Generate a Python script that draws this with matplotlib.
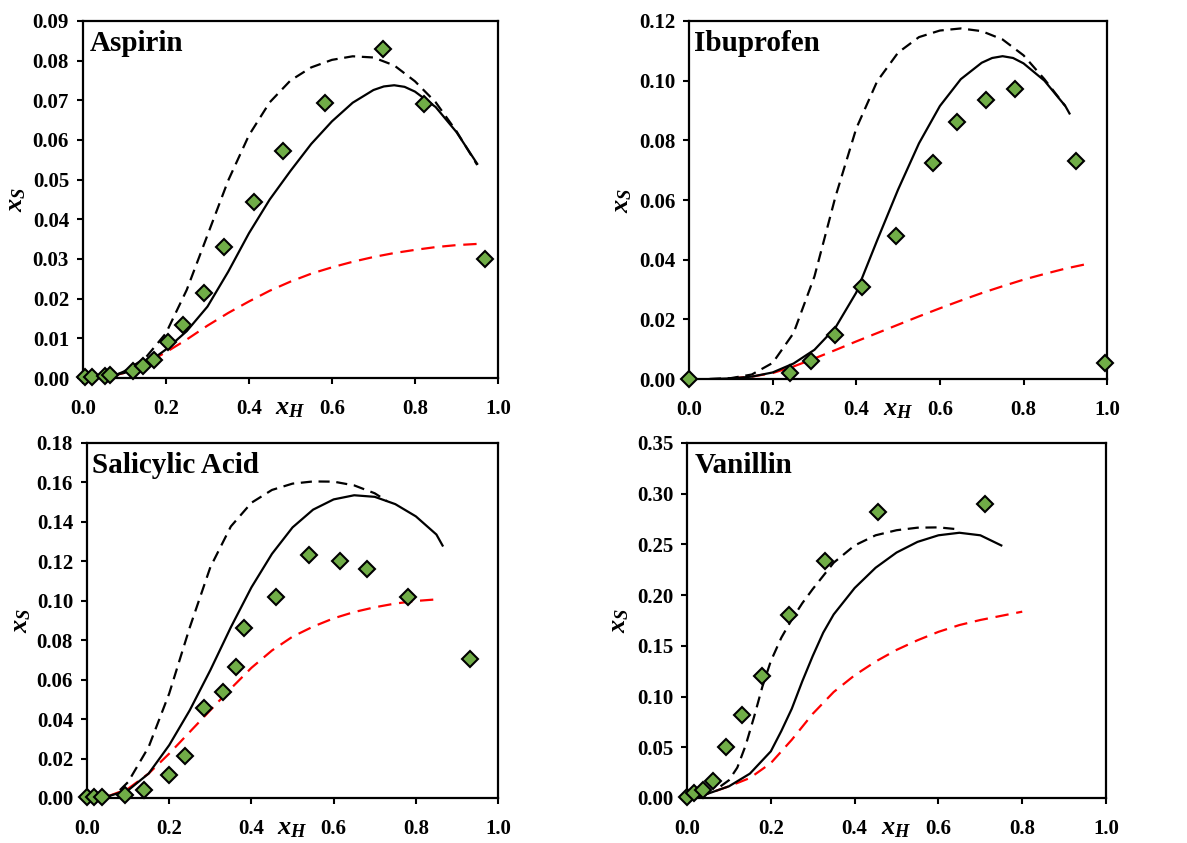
import matplotlib
matplotlib.use("Agg")
import matplotlib.pyplot as plt

plt.rcParams['font.family'] = ['Liberation Serif', 'DejaVu Serif']
plt.rcParams['font.weight'] = 'bold'
plt.rcParams['mathtext.fontset'] = 'custom'
plt.rcParams['mathtext.it'] = 'Liberation Serif:italic:bold'
plt.rcParams['mathtext.rm'] = 'Liberation Serif:bold'
plt.rcParams['mathtext.bf'] = 'Liberation Serif:bold'

# ---------------- Aspirin ----------------
asp_exp_x = [0.006, 0.022, 0.054, 0.066, 0.120, 0.144, 0.170, 0.206, 0.242, 0.292, 0.340, 0.412, 0.483, 0.583, 0.722, 0.821, 0.970]
asp_exp_y = [0.0002, 0.0002, 0.0004, 0.0008, 0.0018, 0.0029, 0.0046, 0.0092, 0.0134, 0.0214, 0.0330, 0.0443, 0.0573, 0.0693, 0.0829, 0.0691, 0.0300]
asp_solid_x = [0.05, 0.10, 0.15, 0.20, 0.25, 0.30, 0.35, 0.40, 0.45, 0.50, 0.55, 0.60, 0.65, 0.70, 0.725, 0.75, 0.775, 0.80, 0.85, 0.90, 0.95]
asp_solid_y = [0.0003, 0.0013, 0.0034, 0.0072, 0.0118, 0.0180, 0.0268, 0.0365, 0.0450, 0.0522, 0.0590, 0.0647, 0.0694, 0.0726, 0.0735, 0.0738, 0.0734, 0.0722, 0.0683, 0.0620, 0.0540]
asp_dash_x = [0.08, 0.10, 0.15, 0.20, 0.25, 0.30, 0.35, 0.40, 0.45, 0.50, 0.55, 0.60, 0.65, 0.70, 0.75, 0.80, 0.85, 0.90, 0.95]
asp_dash_y = [0.0008, 0.0017, 0.0050, 0.0113, 0.0222, 0.0360, 0.0498, 0.0612, 0.0695, 0.0750, 0.0783, 0.0802, 0.0811, 0.0808, 0.0788, 0.0748, 0.0695, 0.0622, 0.0537]
asp_red_x = [0.07, 0.10, 0.15, 0.20, 0.25, 0.30, 0.35, 0.40, 0.45, 0.50, 0.55, 0.60, 0.65, 0.70, 0.75, 0.80, 0.85, 0.90, 0.95]
asp_red_y = [0.0005, 0.0013, 0.0036, 0.0065, 0.0097, 0.0132, 0.0164, 0.0193, 0.0220, 0.0243, 0.0263, 0.0279, 0.0293, 0.0305, 0.0315, 0.0323, 0.0330, 0.0335, 0.0338]

# ---------------- Ibuprofen ----------------
ibu_exp_x = [0.0, 0.242, 0.291, 0.348, 0.414, 0.494, 0.584, 0.642, 0.711, 0.780, 0.926, 0.995]
ibu_exp_y = [0.0, 0.0020, 0.0061, 0.0148, 0.0310, 0.0478, 0.0723, 0.0863, 0.0935, 0.0972, 0.0731, 0.0054]
ibu_solid_x = [0.05, 0.10, 0.15, 0.20, 0.25, 0.30, 0.35, 0.40, 0.45, 0.50, 0.55, 0.60, 0.65, 0.70, 0.725, 0.75, 0.775, 0.80, 0.85, 0.90, 0.91]
ibu_solid_y = [0.0, 0.0002, 0.0008, 0.0022, 0.0052, 0.0098, 0.0172, 0.0290, 0.0465, 0.0635, 0.0790, 0.0915, 0.1005, 0.1060, 0.1076, 0.1082, 0.1076, 0.1058, 0.1000, 0.0915, 0.0890]
ibu_dash_x = [0.05, 0.10, 0.15, 0.20, 0.25, 0.30, 0.35, 0.40, 0.45, 0.50, 0.55, 0.60, 0.65, 0.70, 0.75, 0.80, 0.85, 0.90]
ibu_dash_y = [0.0, 0.0003, 0.0015, 0.0054, 0.0154, 0.0344, 0.0610, 0.0840, 0.0998, 0.1094, 0.1146, 0.1168, 0.1175, 0.1166, 0.1138, 0.1085, 0.1005, 0.0915]
ibu_red_x = [0.10, 0.15, 0.20, 0.25, 0.30, 0.35, 0.40, 0.45, 0.50, 0.55, 0.60, 0.65, 0.70, 0.75, 0.80, 0.85, 0.90, 0.95]
ibu_red_y = [0.0002, 0.0008, 0.0020, 0.0042, 0.0069, 0.0097, 0.0126, 0.0154, 0.0182, 0.0210, 0.0237, 0.0263, 0.0288, 0.0311, 0.0333, 0.0352, 0.0370, 0.0385]

# ---------------- Salicylic Acid ----------------
sal_exp_x = [0.0, 0.017, 0.037, 0.093, 0.139, 0.200, 0.238, 0.284, 0.331, 0.362, 0.383, 0.460, 0.541, 0.616, 0.681, 0.781, 0.931]
sal_exp_y = [0.0005, 0.0005, 0.0005, 0.0014, 0.0042, 0.0119, 0.0212, 0.0454, 0.0538, 0.0665, 0.0860, 0.1021, 0.1233, 0.1204, 0.1162, 0.1018, 0.0704]
sal_solid_x = [0.0, 0.05, 0.10, 0.15, 0.20, 0.25, 0.30, 0.35, 0.40, 0.45, 0.50, 0.55, 0.60, 0.65, 0.70, 0.75, 0.80, 0.85, 0.865]
sal_solid_y = [0.0, 0.0008, 0.0039, 0.0124, 0.0268, 0.0445, 0.0648, 0.0866, 0.1068, 0.1238, 0.1372, 0.1462, 0.1514, 0.1535, 0.1527, 0.1490, 0.1428, 0.1336, 0.1280]
sal_dash_x = [0.08, 0.10, 0.15, 0.20, 0.25, 0.30, 0.35, 0.40, 0.45, 0.50, 0.55, 0.60, 0.65, 0.70, 0.73]
sal_dash_y = [0.0040, 0.0081, 0.0259, 0.0530, 0.0865, 0.1170, 0.1377, 0.1497, 0.1562, 0.1594, 0.1605, 0.1604, 0.1585, 0.1545, 0.1505]
sal_red_x = [0.05, 0.10, 0.15, 0.20, 0.25, 0.30, 0.35, 0.40, 0.45, 0.50, 0.55, 0.60, 0.65, 0.70, 0.75, 0.80, 0.85]
sal_red_y = [0.0008, 0.0047, 0.0124, 0.0225, 0.0335, 0.0445, 0.0555, 0.0660, 0.0748, 0.0818, 0.0869, 0.0911, 0.0943, 0.0967, 0.0986, 0.0999, 0.1007]

# ---------------- Vanillin ----------------
van_exp_x = [0.0, 0.016, 0.038, 0.062, 0.093, 0.130, 0.180, 0.243, 0.329, 0.455, 0.711]
van_exp_y = [0.0007, 0.0050, 0.0080, 0.0164, 0.0500, 0.0817, 0.1200, 0.1800, 0.2335, 0.2820, 0.2900]
van_solid_x = [0.02, 0.05, 0.10, 0.15, 0.20, 0.225, 0.25, 0.275, 0.30, 0.325, 0.35, 0.40, 0.45, 0.50, 0.55, 0.60, 0.65, 0.70, 0.75]
van_solid_y = [0.0010, 0.0043, 0.0115, 0.0240, 0.0460, 0.0660, 0.0880, 0.1150, 0.1400, 0.1630, 0.1810, 0.2070, 0.2270, 0.2420, 0.2525, 0.2590, 0.2615, 0.2590, 0.2490]
van_dash_x = [0.08, 0.10, 0.12, 0.14, 0.16, 0.18, 0.20, 0.225, 0.25, 0.275, 0.30, 0.35, 0.40, 0.45, 0.50, 0.55, 0.60, 0.65]
van_dash_y = [0.0115, 0.0175, 0.0300, 0.0520, 0.0800, 0.1100, 0.1350, 0.1580, 0.1760, 0.1920, 0.2060, 0.2320, 0.2490, 0.2590, 0.2640, 0.2665, 0.2668, 0.2648]
van_red_x = [0.02, 0.05, 0.10, 0.15, 0.20, 0.25, 0.30, 0.35, 0.40, 0.45, 0.50, 0.55, 0.60, 0.65, 0.70, 0.75, 0.80]
van_red_y = [0.0010, 0.0043, 0.0115, 0.0197, 0.0344, 0.0574, 0.0830, 0.1045, 0.1210, 0.1345, 0.1460, 0.1555, 0.1638, 0.1705, 0.1755, 0.1796, 0.1837]

titles = ["Aspirin", "Ibuprofen", "Salicylic Acid", "Vanillin"]
ymax = [0.09, 0.12, 0.18, 0.35]
ystep = [0.01, 0.02, 0.02, 0.05]
x_ticks = [0.0, 0.2, 0.4, 0.6, 0.8, 1.0]

panels = [
    (asp_exp_x, asp_exp_y, asp_solid_x, asp_solid_y, asp_dash_x, asp_dash_y, asp_red_x, asp_red_y),
    (ibu_exp_x, ibu_exp_y, ibu_solid_x, ibu_solid_y, ibu_dash_x, ibu_dash_y, ibu_red_x, ibu_red_y),
    (sal_exp_x, sal_exp_y, sal_solid_x, sal_solid_y, sal_dash_x, sal_dash_y, sal_red_x, sal_red_y),
    (van_exp_x, van_exp_y, van_solid_x, van_solid_y, van_dash_x, van_dash_y, van_red_x, van_red_y),
]

# axes rectangles (figure fractions)
rects = [
    [0.0699, 0.5516, 0.3496, 0.4235],
    [0.5805, 0.5504, 0.3522, 0.4247],
    [0.0733, 0.0534, 0.3463, 0.4211],
    [0.5788, 0.0534, 0.3530, 0.4211],
]
title_x = [0.017, 0.012, 0.012, 0.019]

fig = plt.figure(figsize=(11.87, 8.43), dpi=100)

for i, (ex, ey, sx, sy, dx, dy, rx, ry) in enumerate(panels):
    ax = fig.add_axes(rects[i])
    ax.plot(rx, ry, color='#FF0000', lw=1.6, dashes=(6, 3.5), zorder=2)
    ax.plot(sx, sy, color='black', lw=1.6, zorder=3)
    ax.plot(dx, dy, color='black', lw=1.6, dashes=(5, 3), zorder=3)
    ax.plot(ex, ey, linestyle='none', marker='D', ms=8.5, mfc='#70AD47',
            mec='black', mew=1.5, zorder=4, clip_on=False)
    ax.set_xlim(0, 1.0)
    ax.set_ylim(0, ymax[i])
    ax.set_xticks(x_ticks)
    ax.set_xticklabels([f"{v:.1f}" for v in x_ticks])
    n = int(round(ymax[i] / ystep[i]))
    yt = [ystep[i] * k for k in range(n + 1)]
    ax.set_yticks(yt)
    ax.set_yticklabels([f"{v:.2f}" for v in yt])
    for sp in ax.spines.values():
        sp.set_linewidth(1.6)
    ax.tick_params(direction='out', length=4, width=1.5, labelsize=15)
    ax.tick_params(axis='x', pad=11)
    ax.tick_params(axis='y', pad=6)
    for lab in ax.get_xticklabels() + ax.get_yticklabels():
        lab.set_fontweight('bold')
    ax.text(title_x[i], 0.975, titles[i], transform=ax.transAxes, ha='left', va='top',
            fontsize=21, fontweight='bold')
    ax.text(0.5, -0.085, r'$x_H$', transform=ax.transAxes, ha='center', va='center', fontsize=19)
    ax.text(-0.16, 0.5, r'$x_S$', transform=ax.transAxes, ha='center', va='center',
            fontsize=19, rotation=90)

fig.savefig("out.png", dpi=100)
